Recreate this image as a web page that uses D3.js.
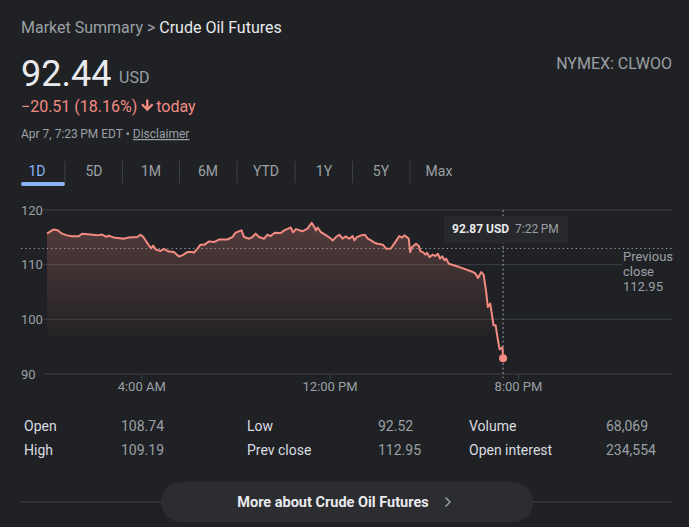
<!DOCTYPE html>
<html>
<head>
<meta charset="utf-8">
<script src="https://cdn.jsdelivr.net/npm/d3@7"></script>
<style>
  html, body { margin: 0; padding: 0; background: #202124; }
  svg { display: block; font-family: Roboto, "Noto Sans", sans-serif; }
</style>
</head>
<body>
<svg id="chart" width="689" height="527"></svg>
<script>
// ---- data ----
const hours = [0.00,0.28,0.45,0.64,0.85,1.06,1.35,1.49,1.84,2.13,2.34,2.52,2.62,2.83,3.26,3.47,3.83,3.97,4.09,4.33,4.43,4.51,4.61,4.82,4.96,5.17,5.39,5.60,5.74,5.96,6.17,6.24,6.38,6.52,6.69,6.88,7.09,7.30,7.66,7.87,8.01,8.26,8.37,8.58,8.72,8.86,9.00,9.22,9.36,9.50,9.67,9.93,10.07,10.24,10.35,10.45,10.57,10.85,11.06,11.24,11.35,11.42,11.49,11.63,11.84,12.06,12.13,12.27,12.41,12.55,12.69,12.83,12.98,13.05,13.16,13.33,13.50,13.62,13.76,13.90,14.04,14.26,14.40,14.60,14.79,14.96,15.08,15.17,15.28,15.36,15.42,15.50,15.67,15.79,15.86,15.96,16.07,16.14,16.24,16.38,16.49,16.60,16.69,16.78,16.88,16.95,17.06,17.51,18.09,18.20,18.30,18.44,18.54,18.65,18.72,18.82,18.90,18.96,19.05,19.15,19.22,19.30,19.34,19.367];
const prices = [115.67,116.45,116.3,115.67,115.36,115.2,115.2,115.67,115.5,115.36,115.5,115.1,115.3,114.99,114.75,114.99,115.05,115.48,115.05,113.5,113.0,113.5,112.8,112.5,112.9,112.4,112.3,111.5,111.7,112.3,112.3,112.2,112.9,113.66,113.66,114.26,114.13,114.6,114.6,115.05,115.85,116.27,115.05,114.75,115.05,115.67,115.05,114.75,115.48,115.23,115.85,115.78,116.27,116.58,116.8,115.9,116.5,116.1,116.58,117.65,116.9,116.27,116.8,115.96,115.4,114.75,114.4,115.05,115.48,114.75,115.17,114.75,115.23,114.44,115.05,115.36,115.48,114.75,114.44,114.02,113.84,113.66,112.92,112.95,114.13,115.23,114.94,115.36,115.05,114.75,112.3,113.2,113.84,113.4,112.43,112.3,111.83,112.19,111.39,111.83,111.57,112.0,111.1,111.52,110.79,111.1,110.18,109.56,108.65,108.35,107.55,108.65,108.17,104.99,102.25,102.87,100.73,98.9,98.9,96.16,94.5,94.75,94.9,92.87];
const yTicks = [90, 100, 110, 120];
const xTickHours = [4, 12, 20];
const xTickLabels = ["4:00 AM", "12:00 PM", "8:00 PM"];
const prevClose = 112.95;
const ranges = ["1D", "5D", "1M", "6M", "YTD", "1Y", "5Y", "Max"];
const statLabels = [["Open", "High"], ["Low", "Prev close"], ["Volume", "Open interest"]];
const statValues = [["108.74", "109.19"], ["92.52", "112.95"], ["68,069", "234,554"]];
const lastPrice = "92.44";
const changeText = "\u221220.51 (18.16%)";
const tooltipPrice = "92.87 USD";
const tooltipTime = "7:22\u2009PM";

const data = hours.map((h, i) => ({ h, v: prices[i] }));

const svg = d3.select("#chart");
const C = { bg: "#202124", text: "#e8eaed", sub: "#9aa0a6", red: "#f28b82", grid: "#3c4043", blue: "#8ab4f8" };

svg.append("rect").attr("width", 689).attr("height", 527).attr("fill", C.bg);

// ---- header ----
const t1 = svg.append("text").attr("x", 21).attr("y", 33).attr("font-size", 16);
t1.append("tspan").attr("fill", C.sub).text("Market Summary > ");
t1.append("tspan").attr("fill", C.text).text("Crude Oil Futures");

svg.append("text").attr("x", 21).attr("y", 86).attr("font-size", 36).attr("fill", C.text).text(lastPrice);
svg.append("text").attr("x", 119).attr("y", 83).attr("font-size", 16).attr("fill", C.sub).text("USD");

const chg = svg.append("text").attr("x", 21).attr("y", 112).attr("font-size", 16).attr("fill", C.red).text(changeText);
const chgW = chg.node().getComputedTextLength();
const ax = 21 + chgW + 10;
// solid down arrow icon
svg.append("path")
  .attr("d", `M${ax - 1.2},99.5 h2.4 v7.2 l3.3,-3.3 l1.7,1.7 l-6.2,6.2 l-6.2,-6.2 l1.7,-1.7 l3.3,3.3 z`)
  .attr("fill", C.red);
svg.append("text").attr("x", ax + 9).attr("y", 112).attr("font-size", 16).attr("fill", C.red).text("today");

const t3 = svg.append("text").attr("x", 21).attr("y", 138).attr("font-size", 12).attr("fill", C.sub);
t3.append("tspan").text("Apr 7, 7:23\u2009PM EDT \u2022 ");
t3.append("tspan").attr("text-decoration", "underline").text("Disclaimer");

svg.append("text").attr("x", 672).attr("y", 69).attr("text-anchor", "end").attr("font-size", 16)
  .attr("fill", C.sub).text("NYMEX: CLWOO");

// ---- range tabs ----
const tabCenters = [37, 94, 151, 208, 266, 324, 381, 439];
ranges.forEach((r, i) => {
  svg.append("text").attr("x", tabCenters[i]).attr("y", 176).attr("text-anchor", "middle")
    .attr("font-size", 14).attr("fill", i === 0 ? C.blue : C.sub).text(r);
  if (i < ranges.length - 1) {
    const sx = (tabCenters[i] + tabCenters[i + 1]) / 2 + (i === 0 ? -0.5 : 0);
    svg.append("line").attr("x1", sx).attr("x2", sx).attr("y1", 161).attr("y2", 183)
      .attr("stroke", C.grid).attr("stroke-width", 1);
  }
});
svg.append("rect").attr("x", 21).attr("y", 182).attr("width", 44).attr("height", 4).attr("rx", 2)
  .attr("fill", C.blue);

// ---- chart ----
const x = d3.scaleLinear().domain([0, 24]).range([47, 47 + 24 * 23.55]);
const y = d3.scaleLinear().domain([90, 120]).range([374, 210]);

// gridlines
yTicks.forEach(t => {
  svg.append("line").attr("x1", 43).attr("x2", t === 110 ? 622 : 672)
    .attr("y1", y(t)).attr("y2", y(t)).attr("stroke", C.grid).attr("stroke-width", 1);
  svg.append("text").attr("x", 21).attr("y", y(t)).attr("dy", "0.35em").attr("font-size", 13)
    .attr("fill", C.sub).text(t);
});

// x axis ticks via d3 axis
const xAxis = d3.axisBottom(x).tickValues(xTickHours).tickSize(6)
  .tickFormat((d, i) => xTickLabels[i]);
const gx = svg.append("g").attr("transform", `translate(0,${y(90)})`).call(xAxis);
gx.select(".domain").remove();
gx.selectAll(".tick line").attr("stroke", C.grid);
gx.selectAll(".tick text").attr("fill", C.sub).attr("font-size", 13)
  .attr("font-family", "Roboto, sans-serif").attr("y", 8);

// gradient
const defs = svg.append("defs");
const grad = defs.append("linearGradient").attr("id", "fillGrad")
  .attr("gradientUnits", "userSpaceOnUse").attr("x1", 0).attr("x2", 0)
  .attr("y1", y(117)).attr("y2", y(96));
grad.append("stop").attr("offset", 0).attr("stop-color", C.red).attr("stop-opacity", 0.24);
grad.append("stop").attr("offset", 1).attr("stop-color", C.red).attr("stop-opacity", 0);

const area = d3.area().x(d => x(d.h)).y0(y(90)).y1(d => y(d.v));
svg.append("path").datum(data).attr("d", area).attr("fill", "url(#fillGrad)");

// prev close dotted line
svg.append("line").attr("x1", 21).attr("x2", 672).attr("y1", y(prevClose)).attr("y2", y(prevClose))
  .attr("stroke", C.sub).attr("stroke-width", 1).attr("stroke-dasharray", "1.3,3");

// crosshair
const last = data[data.length - 1];
svg.append("line").attr("x1", x(last.h)).attr("x2", x(last.h)).attr("y1", 210).attr("y2", 378)
  .attr("stroke", C.sub).attr("stroke-width", 1).attr("stroke-dasharray", "2,2.5");

// line
const line = d3.line().x(d => x(d.h)).y(d => y(d.v));
svg.append("path").datum(data).attr("d", line).attr("fill", "none")
  .attr("stroke", C.red).attr("stroke-width", 2).attr("stroke-linejoin", "round");

svg.append("circle").attr("cx", x(last.h)).attr("cy", y(last.v)).attr("r", 4).attr("fill", C.red);

// tooltip
svg.append("rect").attr("x", 444).attr("y", 216).attr("width", 124).attr("height", 27)
  .attr("fill", "#27282b");
const tt = svg.append("text").attr("x", 452).attr("y", 233).attr("font-size", 12);
tt.append("tspan").attr("fill", C.text).attr("font-weight", "bold").text(tooltipPrice);
tt.append("tspan").attr("fill", C.sub).attr("dx", 6).text(tooltipTime);

// previous close label
["Previous", "close", String(prevClose)].forEach((s, i) => {
  svg.append("text").attr("x", 623).attr("y", 256 + i * 15).attr("dy", "0.35em")
    .attr("font-size", 13).attr("fill", C.sub).text(s);
});

// ---- stats ----
const labelX = [24, 247, 469], valueX = [121, 378, 606], rowY = [426, 450];
statLabels.forEach((col, c) => {
  col.forEach((lab, r) => {
    svg.append("text").attr("x", labelX[c]).attr("y", rowY[r]).attr("dy", "0.35em")
      .attr("font-size", 14).attr("fill", "#dadce0").text(lab);
    svg.append("text").attr("x", valueX[c]).attr("y", rowY[r]).attr("dy", "0.35em")
      .attr("font-size", 14).attr("fill", C.sub).text(statValues[c][r]);
  });
});

// ---- bottom button ----
svg.append("line").attr("x1", 21).attr("x2", 672).attr("y1", 502).attr("y2", 502)
  .attr("stroke", C.grid).attr("stroke-width", 1);
svg.append("rect").attr("x", 161).attr("y", 482).attr("width", 372).attr("height", 40).attr("rx", 20)
  .attr("fill", "#2c2d30");
svg.append("text").attr("x", 333).attr("y", 502).attr("dy", "0.35em").attr("text-anchor", "middle")
  .attr("font-size", 14.5).attr("font-weight", "bold").attr("fill", C.text).text("More about Crude Oil Futures");
svg.append("path").attr("d", "M445.5,497.5 L450,502 L445.5,506.5").attr("fill", "none")
  .attr("stroke", C.sub).attr("stroke-width", 1.5);
</script>
</body>
</html>
